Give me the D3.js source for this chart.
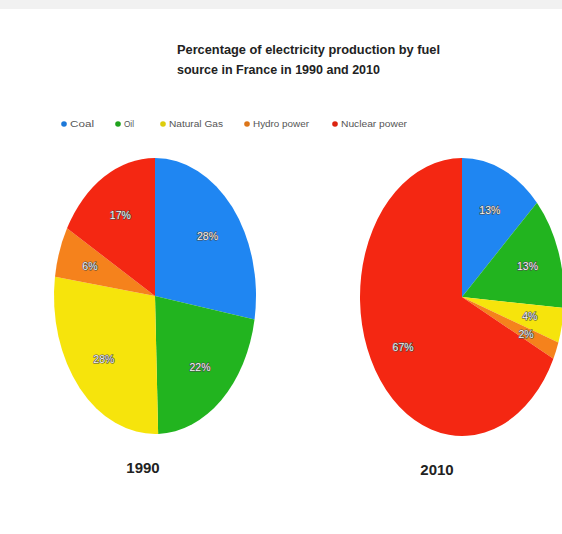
<!DOCTYPE html>
<html>
<head>
<meta charset="utf-8">
<script src="https://cdn.jsdelivr.net/npm/d3@7"></script>
<style>
  html, body { margin: 0; padding: 0; background: #ffffff; }
  svg { display: block; }
</style>
</head>
<body>
<svg id="chart" width="562" height="534"></svg>
<script>
const categories = ["Coal", "Oil", "Natural Gas", "Hydro power", "Nuclear power"];
const values1990 = [28, 22, 28, 6, 17];
const values2010 = [13, 13, 4, 2, 67];
const years = ["1990", "2010"];
const titleLines = ["Percentage of electricity production by fuel", "source in France in 1990 and 2010"];
const colors = ["#1f86f2", "#22b41f", "#f6e40c", "#f5821c", "#f42712"];

const svg = d3.select("#chart");
const W = 562, H = 534;

// faint top band (watermark-like background)
svg.append("rect").attr("x", 0).attr("y", 0).attr("width", W).attr("height", 9).attr("fill", "#f1f1f1");

// title
svg.selectAll("text.title").data(titleLines).join("text")
  .attr("class", "title")
  .attr("x", 177)
  .attr("y", (d, i) => 54 + i * 20)
  .attr("font-family", "Liberation Sans, Arial, sans-serif")
  .attr("font-weight", "bold")
  .attr("font-size", 13)
  .attr("fill", "#222")
  .attr("textLength", (d, i) => i === 0 ? 263 : 203)
  .attr("lengthAdjust", "spacingAndGlyphs")
  .text(d => d);

// legend
const legendX = d3.scaleOrdinal().domain(categories).range([64, 118, 163, 247, 335]);
const legendW = d3.scaleOrdinal().domain(categories).range([24, 10, 54, 56, 66]);
const legendColor = d3.scaleOrdinal().domain(categories).range(colors);
const lg = svg.append("g").attr("class", "legend");
const items = lg.selectAll("g").data(categories).join("g")
  .attr("transform", d => `translate(${legendX(d)},124)`);
items.append("circle").attr("r", 2.8).attr("fill", d => d3.color(legendColor(d)).darker(0.3));
items.append("text")
  .attr("x", 6).attr("y", 3)
  .attr("font-family", "Liberation Sans, Arial, sans-serif")
  .attr("font-size", 8.5)
  .attr("fill", "#555")
  .attr("textLength", d => legendW(d))
  .attr("lengthAdjust", "spacingAndGlyphs")
  .text(d => d);

// pies
const pie = d3.pie().sort(null).value(d => d);
const R = 100;
const arc = d3.arc().innerRadius(0).outerRadius(R);
const labelArc = d3.arc().innerRadius(R * 0.68).outerRadius(R * 0.68);

const pies = [
  { year: years[0], values: values1990, cx: 155, cy: 296, rx: 101, ry: 138, yearX: 143, yearY: 473 },
  { year: years[1], values: values2010, cx: 462, cy: 297, rx: 102, ry: 139, yearX: 437, yearY: 475 }
];

const color = d3.scaleOrdinal().domain(d3.range(categories.length)).range(colors);

pies.forEach(p => {
  const sx = p.rx / R, sy = p.ry / R;
  const arcs = pie(p.values);
  const g = svg.append("g").attr("transform", `translate(${p.cx},${p.cy}) scale(${sx},${sy})`);
  g.selectAll("path").data(arcs).join("path")
    .attr("d", arc)
    .attr("fill", (d, i) => color(i));

  const lbl = svg.append("g").attr("transform", `translate(${p.cx},${p.cy})`);
  lbl.selectAll("text").data(arcs).join("text")
    .attr("x", d => labelArc.centroid(d)[0] * sx)
    .attr("y", d => labelArc.centroid(d)[1] * sy + 4)
    .attr("text-anchor", "middle")
    .attr("font-family", "Liberation Sans, Arial, sans-serif")
    .attr("font-size", 10.5)
    .attr("fill", "#f4f4f4")
    .attr("stroke", "#4a4a4a")
    .attr("stroke-width", 1.2)
    .attr("paint-order", "stroke")
    .text(d => d.data + "%");

  svg.append("text")
    .attr("x", p.yearX).attr("y", p.yearY)
    .attr("text-anchor", "middle")
    .attr("font-family", "Liberation Sans, Arial, sans-serif")
    .attr("font-weight", "bold")
    .attr("font-size", 15)
    .attr("fill", "#222")
    .text(p.year);
});
</script>
</body>
</html>
